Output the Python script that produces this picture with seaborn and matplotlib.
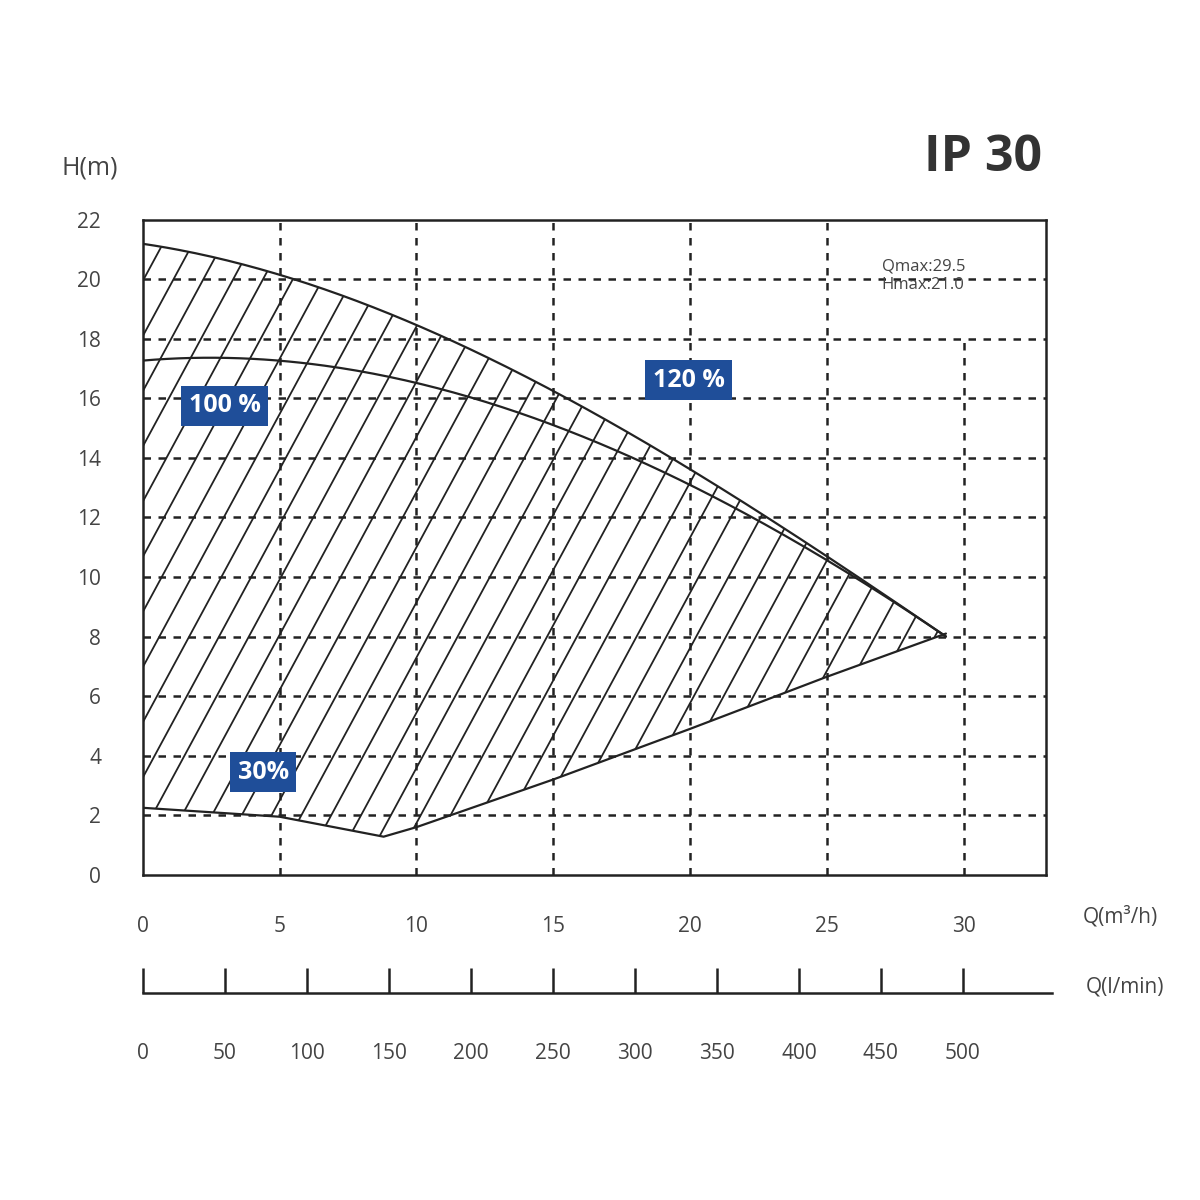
import numpy as np
import pandas as pd
import matplotlib
matplotlib.use("Agg")
import matplotlib.pyplot as plt
import seaborn as sns
from matplotlib.patches import Polygon

sns.set_style("white")
plt.rcParams['font.family'] = ['Open Sans', 'DejaVu Sans']

q120 = [0, 5, 10, 15, 20, 25, 29.35]
h120 = [21.2, 20.15, 18.4, 16.2, 13.9, 10.4, 8.1]
q100 = [0, 5, 10, 15, 20, 25, 29.35]
h100 = [17.3, 17.2, 16.5, 15.1, 13.3, 10.3, 8.1]
q30 = [0, 5, 8.8, 10, 15, 20, 25, 29.35]
h30 = [2.25, 1.95, 1.28, 1.6, 3.2, 4.9, 6.65, 8.1]
xticks = [0, 5, 10, 15, 20, 25, 30]
yticks = list(range(0, 23, 2))
lmin_ticks = list(range(0, 501, 50))
lmin_labels = ["0", "50", "100", "150", "200", "250", "300", "350", "400", "450", "500"]

fig = plt.figure(figsize=(12, 12), dpi=100)
ax = fig.add_axes([0.119, 0.271, 0.7525, 0.546])
ax.set_xlim(0, 33)
ax.set_ylim(0, 22)

for x in xticks[1:]:
    top = 18 if x == 30 else 22
    ax.plot([x, x], [0, top], ls=(0, (3, 3)), color='#222', lw=1.8)
for y in yticks[1:-1]:
    ax.plot([0, 33], [y, y], ls=(0, (3, 3)), color='#222', lw=1.8)

def curve(q, h, n=200):
    xs = np.linspace(q[0], q[-1], n)
    return xs, np.interp(xs, q, h)

def smooth(q, h, deg=3):
    c = np.polyfit(q, h, deg)
    xs = np.linspace(q[0], q[-1], 200)
    return xs, np.polyval(c, xs)

x1, y1 = smooth(q120, h120)
x2, y2 = smooth(q100, h100)
df = pd.concat([pd.DataFrame({'Q': x1, 'H': y1, 'c': '120'}),
                pd.DataFrame({'Q': x2, 'H': y2, 'c': '100'}),
                pd.DataFrame({'Q': q30, 'H': h30, 'c': '30'})])
sns.lineplot(data=df, x='Q', y='H', units='c', estimator=None, sort=False,
             color='#222', lw=1.6, ax=ax)

x3, y3 = curve(q30, h30)
poly = np.vstack([np.column_stack([x1, y1]), np.column_stack([x3[::-1], y3[::-1]])])
patch = Polygon(poly, closed=True, fc='none', ec='none', transform=ax.transData)
ax.add_patch(patch)
slope = 1.7
for x0 in np.arange(-15, 32, 1.09):
    ln, = ax.plot([x0, x0 + 22 / slope], [0, 22], color='#222', lw=1.3)
    ln.set_clip_path(patch)

for s in ax.spines.values():
    s.set_color('#222'); s.set_linewidth(1.8); s.set_visible(True)
ax.set_xticks(xticks)
ax.set_yticks(yticks)
ax.tick_params(axis='y', length=0, labelsize=15, colors='#444', pad=30)
ax.tick_params(axis='x', length=0, labelsize=15, colors='#444', pad=30)
ax.set_xlabel(''); ax.set_ylabel('')

box = dict(boxstyle='square,pad=0.3', fc='#1f4e99', ec='none')
ax.text(3.0, 15.75, '100 %', color='white', fontsize=18, fontweight='bold', ha='center', va='center', bbox=box)
ax.text(19.95, 16.6, '120 %', color='white', fontsize=18, fontweight='bold', ha='center', va='center', bbox=box)
ax.text(4.4, 3.45, '30%', color='white', fontsize=18, fontweight='bold', ha='center', va='center', bbox=box)
ax.text(27.0, 20.1, 'Qmax:29.5\nHmax:21.0', fontsize=12, color='#444', va='center', linespacing=1.2)

fig.text(90/1200, 1-168/1200, 'H(m)', fontsize=18, color='#444', ha='center', va='center')
fig.text(1042/1200, 1-158/1200, 'IP 30', fontsize=36, fontweight='bold', color='#333', ha='right', va='center')
fig.text(1120/1200, 1-917/1200, 'Q(m³/h)', fontsize=15, color='#444', ha='center', va='center')
fig.text(1125/1200, 1-987/1200, 'Q(l/min)', fontsize=15, color='#444', ha='center', va='center')

ax2 = fig.add_axes([0.119, 1-993/1200, 0.7575, 0.02])
ax2.set_xlim(0, 550 * 33.25 / 33)
ax2.set_yticks([])
for k in ['top', 'left', 'right']:
    ax2.spines[k].set_visible(False)
ax2.spines['bottom'].set_color('#222'); ax2.spines['bottom'].set_linewidth(1.8)
ax2.set_xticks(lmin_ticks)
ax2.set_xticklabels(lmin_labels)
ax2.tick_params(axis='x', bottom=True, direction='in', length=18, width=1.8, color='#222',
                labelsize=15, labelcolor='#444', pad=36)
ax2.patch.set_alpha(0)

fig.savefig('out.png', dpi=100, facecolor='white')
